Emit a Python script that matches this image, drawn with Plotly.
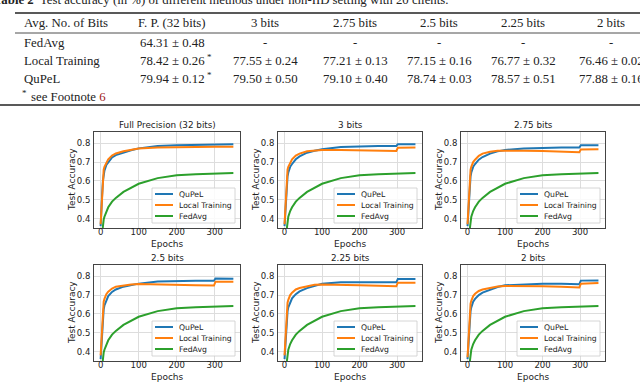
import plotly.graph_objects as go

W, H = 640, 383

# ---- table data ----
table_caption = "<b>Table 2</b>  Test accuracy (in %) of different methods under non-IID setting with 20 clients."
table_header = ["Avg. No. of Bits", "F. P. (32 bits)", "3 bits", "2.75 bits", "2.5 bits", "2.25 bits", "2 bits"]
row_fedavg = ["FedAvg", "64.31 ± 0.48", "-", "-", "-", "-", "-"]
row_local = ["Local Training", "78.42 ± 0.26", "77.55 ± 0.24", "77.21 ± 0.13", "77.15 ± 0.16", "76.77 ± 0.32", "76.46 ± 0.02"]
row_qupel = ["QuPeL", "79.94 ± 0.12", "79.50 ± 0.50", "79.10 ± 0.40", "78.74 ± 0.03", "78.57 ± 0.51", "77.88 ± 0.16"]
starred = [False, True, False, False, False, False, False]

# ---- curve data ----
epochs = [0, 2, 4, 6, 8, 10, 15, 20, 30, 40, 60, 80, 100, 150, 200, 250, 298, 302, 349]

fedavg = [0.25, 0.29, 0.33, 0.37, 0.395, 0.41, 0.44, 0.46, 0.49, 0.51, 0.542, 0.565, 0.585,
          0.615, 0.63, 0.636, 0.64, 0.64, 0.642]

qupel_fp = [0.36, 0.42, 0.53, 0.60, 0.635, 0.655, 0.685, 0.70, 0.725, 0.737, 0.752, 0.763, 0.773,
            0.785, 0.79, 0.792, 0.793, 0.794, 0.795]
local_fp = [0.37, 0.45, 0.56, 0.63, 0.66, 0.675, 0.70, 0.715, 0.735, 0.746, 0.758, 0.767, 0.772,
            0.778, 0.78, 0.781, 0.781, 0.782, 0.782]

qupel_3 = [0.36, 0.42, 0.52, 0.59, 0.625, 0.645, 0.675, 0.69, 0.715, 0.73, 0.75, 0.76, 0.768,
           0.78, 0.785, 0.786, 0.786, 0.795, 0.795]
local_3 = [0.37, 0.45, 0.56, 0.63, 0.66, 0.675, 0.70, 0.715, 0.735, 0.745, 0.758, 0.763, 0.765,
           0.765, 0.764, 0.761, 0.759, 0.776, 0.777]

qupel_275 = [0.36, 0.42, 0.52, 0.59, 0.625, 0.645, 0.675, 0.69, 0.713, 0.727, 0.745, 0.757, 0.764,
             0.773, 0.776, 0.777, 0.777, 0.79, 0.79]
local_275 = [0.37, 0.45, 0.56, 0.63, 0.66, 0.675, 0.70, 0.713, 0.733, 0.745, 0.755, 0.76, 0.761,
             0.761, 0.759, 0.756, 0.753, 0.767, 0.768]

qupel_25 = [0.36, 0.42, 0.52, 0.59, 0.625, 0.645, 0.675, 0.695, 0.717, 0.73, 0.745, 0.755, 0.761,
            0.772, 0.776, 0.776, 0.776, 0.788, 0.787]
local_25 = [0.38, 0.46, 0.57, 0.635, 0.665, 0.68, 0.705, 0.718, 0.735, 0.745, 0.752, 0.757, 0.759,
            0.758, 0.755, 0.752, 0.751, 0.771, 0.771]

qupel_225 = [0.36, 0.42, 0.51, 0.58, 0.615, 0.635, 0.665, 0.683, 0.705, 0.72, 0.737, 0.75, 0.76,
             0.768, 0.77, 0.769, 0.768, 0.785, 0.785]
local_225 = [0.38, 0.46, 0.56, 0.63, 0.66, 0.675, 0.70, 0.713, 0.73, 0.738, 0.748, 0.755, 0.757,
             0.753, 0.752, 0.75, 0.747, 0.766, 0.766]

qupel_2 = [0.36, 0.42, 0.51, 0.58, 0.615, 0.635, 0.665, 0.68, 0.70, 0.713, 0.73, 0.743, 0.752,
           0.758, 0.761, 0.76, 0.758, 0.777, 0.778]
local_2 = [0.37, 0.45, 0.56, 0.63, 0.655, 0.67, 0.695, 0.707, 0.722, 0.73, 0.74, 0.746, 0.749,
           0.75, 0.747, 0.744, 0.74, 0.76, 0.765]

series_names = ["QuPeL", "Local Training", "FedAvg"]
panel_titles = ["Full Precision (32 bits)", "3 bits", "2.75 bits", "2.5 bits", "2.25 bits", "2 bits"]
panel_series = [(qupel_fp, local_fp), (qupel_3, local_3), (qupel_275, local_275),
                (qupel_25, local_25), (qupel_225, local_225), (qupel_2, local_2)]

# ---- layout in pixels ----
col_px = [(94, 240), (278, 422), (461, 605)]
row_px = [(132, 228), (265, 361)]
COLORS = ["#1f77b4", "#ff7f0e", "#2ca02c"]
SANS = "DejaVu Sans"
SERIF = "Liberation Serif"
TXT = "#222222"


def px(x):
    return x / W


def py(y):
    return 1 - y / H


def note(x, y, text, size, family=SANS, **kw):
    d = dict(x=px(x), y=py(y), xref="paper", yref="paper", text=text, showarrow=False,
             xanchor="center", yanchor="middle", font=dict(family=family, size=size, color=TXT))
    d.update(kw)
    return d


fig = go.Figure()
annotations = []
shapes = []
layout = {}

for i, title in enumerate(panel_titles):
    r, c = divmod(i, 3)
    x0, x1 = col_px[c]
    y0, y1 = row_px[r]
    n = "" if i == 0 else str(i + 1)
    qv, lv = panel_series[i]
    for name, vals, color in zip(series_names, [qv, lv, fedavg], COLORS):
        fig.add_scatter(x=epochs, y=vals, mode="lines", name=name, line=dict(color=color, width=2),
                        xaxis="x" + n, yaxis="y" + n, showlegend=False, hoverinfo="skip")

    axis_style = dict(showgrid=True, gridcolor="#dddddd", gridwidth=0.8, zeroline=False, showline=True,
                      mirror=True, linecolor="#444444", linewidth=0.8, ticks="",
                      tickfont=dict(family=SANS, size=8.5, color=TXT))
    layout["xaxis" + n] = dict(domain=[px(x0), px(x1)], anchor="y" + n, range=[-17.45, 366.45],
                               tickvals=[0, 100, 200, 300], ticklabelstandoff=-4, **axis_style)
    layout["yaxis" + n] = dict(domain=[py(y1), py(y0)], anchor="x" + n, range=[0.35, 0.86],
                               tickvals=[0.4, 0.5, 0.6, 0.7, 0.8], ticklabelstandoff=1, **axis_style)

    annotations.append(note((x0 + x1) / 2, y0 - 7, title, 8.8))
    annotations.append(note((x0 + x1) / 2, y1 + 16, "Epochs", 9))
    annotations.append(note(x0 - 22, (y0 + y1) / 2, "Test Accuracy", 9, textangle=-90))

    # legend box in the lower right corner
    shapes.append(dict(type="rect", xref="paper", yref="paper", x0=px(x1 - 88), x1=px(x1 - 5),
                       y0=py(y1 - 5), y1=py(y1 - 40), fillcolor="rgba(255,255,255,0.85)",
                       line=dict(color="#cccccc", width=0.8)))
    for k, name in enumerate(series_names):
        ly = y1 - 34 + k * 11
        shapes.append(dict(type="line", xref="paper", yref="paper", x0=px(x1 - 85), x1=px(x1 - 67),
                           y0=py(ly), y1=py(ly), line=dict(color=COLORS[k], width=2)))
        annotations.append(note(x1 - 63, ly, name, 7.7, xanchor="left"))

# ---- table ----
col_x = [22, 172, 265, 355, 439, 523, 611]
row_y = [23, 43, 61, 79]
TS = 12.8

annotations.append(note(-8, 0, table_caption, TS, family=SERIF, xanchor="left"))
for j, row in enumerate([table_header, row_fedavg, row_local, row_qupel]):
    for k, txt in enumerate(row):
        annotations.append(note(col_x[k], row_y[j], txt, TS, family=SERIF,
                                xanchor="left" if k == 0 else "center"))
        if j >= 2 and starred[k]:
            annotations.append(note(col_x[k] + 37, row_y[j] - 4, "*", 9, family=SERIF))
annotations.append(note(24, 93, "*", 9, family=SERIF))
annotations.append(note(29, 97, "see Footnote <span style='color:#a01818'>6</span>", TS,
                        family=SERIF, xanchor="left"))

for y, xs, w in [(13, 15, 1.6), (33, 15, 0.8), (105, 0, 1.6)]:
    shapes.append(dict(type="line", xref="paper", yref="paper", x0=px(xs), x1=1.0, y0=py(y), y1=py(y),
                       line=dict(color="#222222", width=w)))

fig.update_layout(width=W, height=H, margin=dict(l=0, r=0, t=0, b=0), template="none",
                  plot_bgcolor="white", paper_bgcolor="white", showlegend=False, hovermode=False,
                  annotations=annotations, shapes=shapes, **layout)
# the page's default body margin would shift the figure by 8px
fig.write_html("out.html", config={"displayModeBar": False},
               post_script="document.body.style.margin='0';document.body.style.overflow='hidden';")
